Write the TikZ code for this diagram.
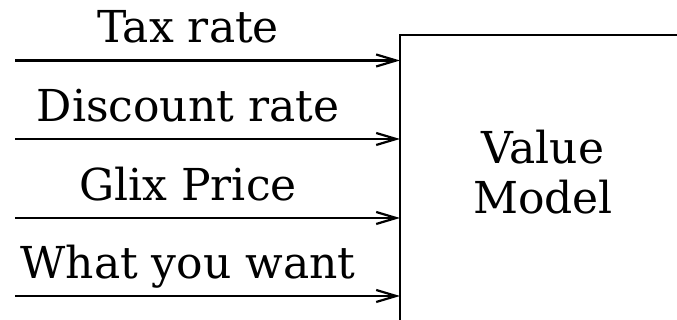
\documentclass[tikz,border=0pt]{standalone}
\usepackage{fontspec}
\setmainfont{DejaVu Serif}
\usetikzlibrary{arrows.meta}
\begin{document}
\begin{tikzpicture}[x=1pt,y=1pt,
  lbl/.style={anchor=base, inner sep=0pt, font=\fontsize{44}{50}\selectfont},
  inarrow/.style={line width=2.2pt, -{Straight Barb[length=20pt,width=12pt,line width=2.2pt]}},
  boxline/.style={line width=2.2pt}]
\useasboundingbox (0,0) rectangle (677,320);
% box
\coordinate (bTL) at (400,285);
\coordinate (bTR) at (680,285);
\coordinate (bBL) at (400,-5);
\draw[boxline] (bTR) -- (bTL) -- (bBL);
\node[inner sep=0pt, align=center, font=\fontsize{44}{50}\selectfont] (model) at (543,148) {Value\\Model};
% inputs
\foreach \i/\y/\t in {1/259.5/Tax rate, 2/181/Discount rate, 3/102/Glix Price, 4/24/What you want}{
  \coordinate (s\i) at (15,\y);
  \coordinate (t\i) at (400,\y);
  \node[lbl] (l\i) at (188,\y+17.5) {\t};
  \draw[inarrow] (s\i) -- (t\i);
}
\end{tikzpicture}
\end{document}
